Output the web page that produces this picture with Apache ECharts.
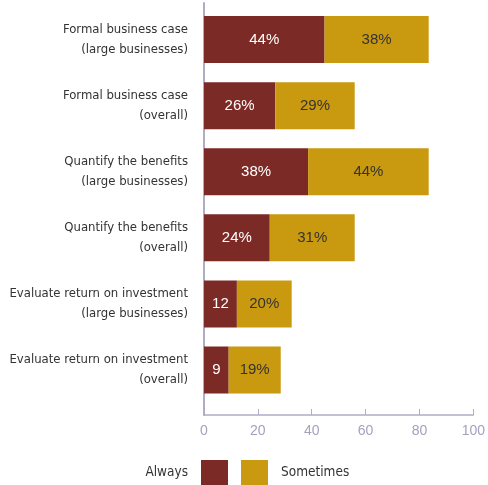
<!DOCTYPE html>
<html>
<head>
<meta charset="utf-8">
<script src="https://cdn.jsdelivr.net/npm/echarts@6/dist/echarts.min.js"></script>
<style>
  html, body { margin: 0; padding: 0; background: #fff; }
  #chart { width: 488px; height: 485px; }
</style>
</head>
<body>
<div id="chart"></div>
<script>
var categories = [
  'Formal business case\n(large businesses)',
  'Formal business case\n(overall)',
  'Quantify the benefits\n(large businesses)',
  'Quantify the benefits\n(overall)',
  'Evaluate return on investment\n(large businesses)',
  'Evaluate return on investment\n(overall)'
];
var always = [44, 26, 38, 24, 12, 9];
var sometimes = [38, 29, 44, 31, 20, 19];
// the two smallest "Always" bars show no % sign in the original
var alwaysLabels = ['44%', '26%', '38%', '24%', '12', '9'];
var sometimesLabels = ['38%', '29%', '44%', '31%', '20%', '19%'];

var axisColor = '#aeadc6';
var textFont = '"Liberation Sans", Arial, sans-serif';
var narrowFont = '"DejaVu Sans Condensed", "Liberation Sans", sans-serif';

var myChart = echarts.init(document.getElementById('chart'));
var option = {
  animation: false,
  legend: [{
    data: ['Always'],
    right: 260,
    top: 460,
    padding: 0,
    align: 'right',
    itemWidth: 27,
    itemHeight: 25,
    icon: 'rect',
    textStyle: { color: '#333', fontSize: 13.5, fontFamily: narrowFont, padding: [0, 8, 0, 0] }
  }, {
    data: ['Sometimes'],
    left: 241,
    top: 460,
    padding: 0,
    align: 'left',
    itemWidth: 27,
    itemHeight: 25,
    icon: 'rect',
    textStyle: { color: '#333', fontSize: 13.5, fontFamily: narrowFont, padding: [0, 0, 0, 8] }
  }],
  grid: [
    { left: 204, right: 10, top: 6.5, height: 396.5 },
    { left: 204, right: 10, top: 3, bottom: 70 }
  ],
  xAxis: [{
    gridIndex: 0,
    type: 'value',
    min: 0,
    max: 100,
    show: false
  }, {
    gridIndex: 1,
    type: 'value',
    min: 0,
    max: 100,
    interval: 20,
    axisLine: { show: true, lineStyle: { color: axisColor, width: 1.5 } },
    axisTick: { show: true, inside: true, length: 6, lineStyle: { color: axisColor } },
    axisLabel: { color: '#a3a2bd', fontSize: 14, margin: 9, fontFamily: textFont },
    splitLine: { show: false }
  }],
  yAxis: [{
    gridIndex: 0,
    type: 'category',
    data: categories,
    inverse: true,
    axisLine: { show: false },
    axisTick: { show: false },
    axisLabel: {
      color: '#333',
      fontSize: 13,
      lineHeight: 20,
      margin: 16,
      fontFamily: narrowFont
    }
  }, {
    gridIndex: 1,
    type: 'value',
    axisLine: { show: true, lineStyle: { color: axisColor, width: 2 } },
    axisTick: { show: false },
    axisLabel: { show: false },
    splitLine: { show: false }
  }],
  series: [{
    name: 'Always',
    type: 'bar',
    stack: 'total',
    xAxisIndex: 0,
    yAxisIndex: 0,
    barWidth: 47,
    itemStyle: { color: '#7c2a26' },
    label: {
      show: true,
      position: 'inside',
      color: '#fff',
      fontSize: 15,
      fontFamily: textFont,
      formatter: function (p) { return alwaysLabels[p.dataIndex]; }
    },
    data: always
  }, {
    name: 'Sometimes',
    type: 'bar',
    stack: 'total',
    xAxisIndex: 0,
    yAxisIndex: 0,
    barWidth: 47,
    itemStyle: { color: '#c9990f' },
    label: {
      show: true,
      position: 'inside',
      color: '#333',
      fontSize: 15,
      fontFamily: textFont,
      formatter: function (p) { return sometimesLabels[p.dataIndex]; }
    },
    data: sometimes
  }]
};
myChart.setOption(option);
window.addEventListener('resize', function () {
  myChart.resize();
});
</script>
</body>
</html>
